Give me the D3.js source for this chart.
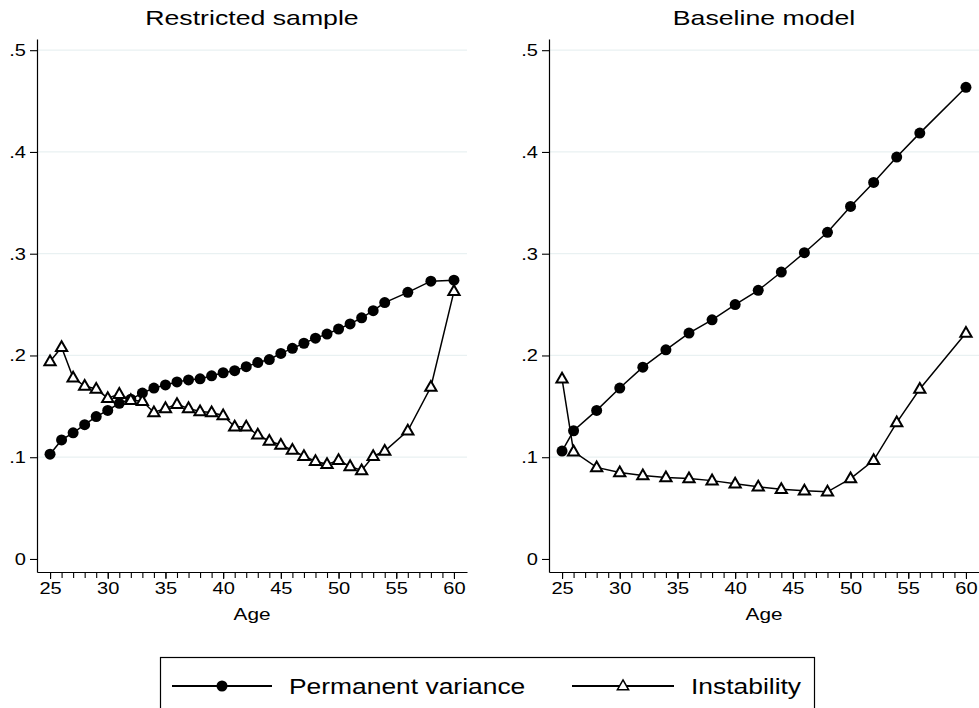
<!DOCTYPE html>
<html>
<head>
<meta charset="utf-8">
<script src="https://cdn.jsdelivr.net/npm/d3@7"></script>
<style>
  html, body { margin: 0; padding: 0; background: #fff; }
  svg { display: block; }
  text { font-family: "Liberation Sans", Arial, Helvetica, sans-serif; fill: #000; }
</style>
</head>
<body>
<svg id="chart" width="979" height="708"></svg>
<script>
// ---------- data ----------
const panelTitles = ["Restricted sample", "Baseline model"];
const seriesNames = ["Permanent variance", "Instability"];

const agesRestricted = [25,26,27,28,29,30,31,32,33,34,35,36,37,38,39,40,41,42,43,44,45,46,47,48,49,50,51,52,53,54,56,58,60];
const permRestricted = [0.103,0.117,0.124,0.132,0.140,0.146,0.153,0.157,0.163,0.168,0.171,0.174,0.176,0.177,0.180,0.183,0.185,0.189,0.193,0.196,0.202,0.207,0.212,0.217,0.221,0.226,0.231,0.237,0.244,0.252,0.262,0.273,0.274];
const instRestricted = [0.194,0.208,0.178,0.170,0.167,0.158,0.162,0.156,0.155,0.144,0.148,0.152,0.148,0.145,0.144,0.141,0.130,0.130,0.122,0.116,0.112,0.107,0.101,0.096,0.093,0.097,0.091,0.087,0.101,0.106,0.126,0.169,0.263];

const agesBaseline = [25,26,28,30,32,34,36,38,40,42,44,46,48,50,52,54,56,60];
const permBaseline = [0.106,0.126,0.146,0.168,0.1885,0.2055,0.222,0.235,0.250,0.264,0.282,0.301,0.321,0.3465,0.370,0.395,0.4185,0.4635];
const instBaseline = [0.177,0.1055,0.090,0.085,0.082,0.080,0.079,0.077,0.074,0.071,0.0685,0.067,0.066,0.079,0.097,0.134,0.167,0.222];

const yTicks = [0, 0.1, 0.2, 0.3, 0.4, 0.5];
const xMajorTicks = [25, 30, 35, 40, 45, 50, 55, 60];
const xMinorTicks = d3.range(25, 61);
const xAxisTitle = "Age";

// ---------- helpers ----------
// the reference text is drawn slightly wider than a regular sans face
function stretch(sel, sx) {
  sel.each(function () {
    const len = this.getComputedTextLength();
    d3.select(this).attr("textLength", len * sx).attr("lengthAdjust", "spacingAndGlyphs");
  });
}

// ---------- drawing ----------
const svg = d3.select("#chart");
const panels = [
  { title: panelTitles[0], ages: agesRestricted, perm: permRestricted, inst: instRestricted, x0: 37 },
  { title: panelTitles[1], ages: agesBaseline, perm: permBaseline, inst: instBaseline, x0: 549 }
];
const plotW = 430, yTop = 39, yBot = 572;
const fmtY = d => d === 0 ? "0" : d3.format(".1f")(d).replace(/^0/, "");

const triPath = d3.symbol().type(d3.symbolTriangle).size(55)();

panels.forEach(p => {
  const x = d3.scaleLinear().domain([23.87, 61.13]).range([p.x0, p.x0 + plotW]);
  const y = d3.scaleLinear().domain([-0.0128, 0.511]).range([yBot, yTop]);
  const g = svg.append("g");

  // gridlines
  g.append("g").selectAll("line").data(yTicks.slice(1)).join("line")
    .attr("x1", p.x0 + 1).attr("x2", p.x0 + plotW)
    .attr("y1", d => y(d)).attr("y2", d => y(d))
    .attr("stroke", "#e9f1f2").attr("stroke-width", 1.3);

  // y axis
  const ya = g.append("g").attr("transform", `translate(${p.x0},0)`)
    .call(d3.axisLeft(y).tickValues(yTicks).tickFormat(fmtY).tickSize(7).tickPadding(4).tickSizeOuter(0));
  ya.select(".domain").attr("stroke", "#000").attr("stroke-width", 1.2);
  ya.selectAll(".tick line").attr("stroke", "#000").attr("stroke-width", 1.1);
  ya.selectAll(".tick text").attr("font-size", 17).attr("font-family", "Liberation Sans, Arial, sans-serif")
    .call(stretch, 1.18);

  // x axis minor
  const xm = g.append("g").attr("transform", `translate(0,${yBot})`)
    .call(d3.axisBottom(x).tickValues(xMinorTicks).tickFormat("").tickSize(6).tickSizeOuter(0));
  xm.select(".domain").attr("stroke", "#000").attr("stroke-width", 1.2);
  xm.selectAll(".tick line").attr("stroke", "#000").attr("stroke-width", 1.1);
  // x axis major
  const xa = g.append("g").attr("transform", `translate(0,${yBot})`)
    .call(d3.axisBottom(x).tickValues(xMajorTicks).tickFormat(d3.format("d")).tickSize(7).tickPadding(3).tickSizeOuter(0));
  xa.select(".domain").remove();
  xa.selectAll(".tick line").attr("stroke", "#000").attr("stroke-width", 1.1);
  xa.selectAll(".tick text").attr("font-size", 17).attr("font-family", "Liberation Sans, Arial, sans-serif")
    .call(stretch, 1.18);

  // axis title
  g.append("text").attr("x", x(42.5)).attr("y", 620).attr("text-anchor", "middle")
    .attr("font-size", 17).text(xAxisTitle).call(stretch, 1.22);

  // panel title
  g.append("text").attr("x", p.x0 + plotW / 2).attr("y", 25).attr("text-anchor", "middle")
    .attr("font-size", 21).text(p.title).call(stretch, 1.27);

  const line = d3.line().x(d => x(d[0])).y(d => y(d[1]));
  const permData = p.ages.map((a, i) => [a, p.perm[i]]);
  const instData = p.ages.map((a, i) => [a, p.inst[i]]);

  g.append("path").datum(permData).attr("d", line)
    .attr("fill", "none").attr("stroke", "#000").attr("stroke-width", 1.5);
  g.append("path").datum(instData).attr("d", line)
    .attr("fill", "none").attr("stroke", "#000").attr("stroke-width", 1.5);

  g.append("g").selectAll("circle").data(permData).join("circle")
    .attr("cx", d => x(d[0])).attr("cy", d => y(d[1])).attr("r", 5.5).attr("fill", "#000");
  g.append("g").selectAll("path").data(instData).join("path")
    .attr("d", triPath)
    .attr("transform", d => `translate(${x(d[0])},${y(d[1]) + 0.5})`)
    .attr("fill", "#fff").attr("stroke", "#000").attr("stroke-width", 2);
});

// ---------- legend ----------
const lg = svg.append("g");
lg.append("rect").attr("x", 160.5).attr("y", 657.5).attr("width", 654).attr("height", 60)
  .attr("fill", "#fff").attr("stroke", "#000").attr("stroke-width", 1.2);
const legendItems = [
  { name: seriesNames[0], lx1: 172, lx2: 272, tx: 289, marker: "circle" },
  { name: seriesNames[1], lx1: 572, lx2: 674, tx: 691, marker: "tri" }
];
const legY = 686;
legendItems.forEach(it => {
  lg.append("line").attr("x1", it.lx1).attr("x2", it.lx2).attr("y1", legY).attr("y2", legY)
    .attr("stroke", "#000").attr("stroke-width", 2);
  const mx = (it.lx1 + it.lx2) / 2;
  if (it.marker === "circle") {
    lg.append("circle").attr("cx", mx).attr("cy", legY).attr("r", 5.5).attr("fill", "#000");
  } else {
    lg.append("path").attr("d", triPath).attr("transform", `translate(${mx},${legY + 0.5})`)
      .attr("fill", "#fff").attr("stroke", "#000").attr("stroke-width", 1.5);
  }
  lg.append("text").attr("x", it.tx).attr("y", legY + 8).attr("font-size", 22).text(it.name)
    .call(stretch, 1.2);
});
</script>
</body>
</html>
